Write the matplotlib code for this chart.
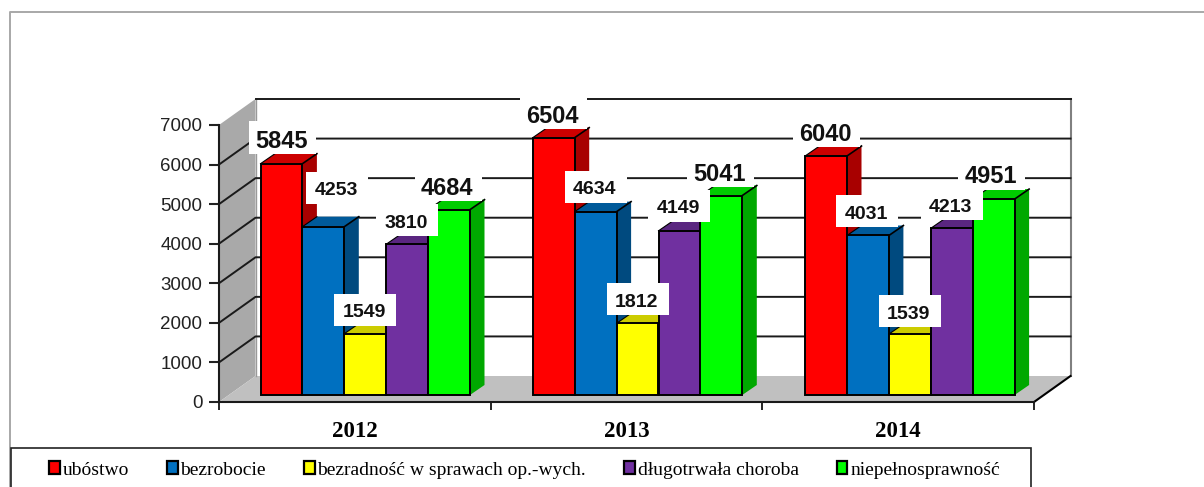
#!/usr/bin/env python3
import matplotlib
matplotlib.use('Agg')
import matplotlib.pyplot as plt
from matplotlib.colors import to_rgb
from matplotlib.lines import Line2D
from matplotlib.patches import Patch, Rectangle
from matplotlib.transforms import IdentityTransform

YEARS = ['2012', '2013', '2014']
SERIES = ['ubóstwo', 'bezrobocie', 'bezradność w sprawach op.-wych.',
          'długotrwała choroba', 'niepełnosprawność']
UBOSTWO = [5845, 6504, 6040]
BEZROBOCIE = [4253, 4634, 4031]
BEZRADNOSC = [1549, 1812, 1539]
CHOROBA = [3810, 4149, 4213]
NIEPELNOSPRAWNOSC = [4684, 5041, 4951]
VALUES = [UBOSTWO, BEZROBOCIE, BEZRADNOSC, CHOROBA, NIEPELNOSPRAWNOSC]
COLORS = ['#ff0000', '#0070c0', '#ffff00', '#7030a0', '#00ff00']
Y_TICKS = [0, 1000, 2000, 3000, 4000, 5000, 6000, 7000]

# label shift from the bar top centre, in pixels, per series then year
LABEL_SHIFT = [[(0, 25), (-1, 24), (-1, 24)],
               [(13, 38), (-1, 24), (-2, 23)],
               [(-1, 23), (-1, 23), (-1, 22)],
               [(-1, 23), (-1, 24), (-1, 23)],
               [(-2, 24), (-2, 24), (-3, 25)]]
LABEL_SIZE = [17, 14, 14, 14, 17]
# white box behind each label, pixels
BOX_SIZE = [(67, 33), (62, 32), (62, 32), (62, 32), (67, 33)]

W, H = 1204, 487
fig = plt.figure(figsize=(W / 100, H / 100), dpi=100)
plt.rcParams['font.family'] = ['Liberation Sans', 'DejaVu Sans']
ax = fig.add_axes([219 / W, (H - 402) / H, 815 / W, 277 / H])
ax.set_xlim(0, 3)
ax.set_ylim(0, 7000)
ax.patch.set_visible(False)

# pixel sizes expressed in data units
ux = 3 / 815
uy = 7000 / 277
wall_dx, wall_dy = 36.5 * ux, 26 * uy
bar_dx, bar_dy = 14.5 * ux, 10 * uy
bar_w = 41.9 * ux
bar_base = 7 * uy
bar_start = 41.5 * ux
group_step = 272.3 * ux


def shade(color, k):
    return tuple(c * k for c in to_rgb(color))


# walls and floor
ax.fill([0, 0, wall_dx, wall_dx], [0, 7000, 7000 + wall_dy, wall_dy],
        color='#a9a9a9', lw=0, clip_on=False, zorder=1)
ax.fill([0, 3, 3 + wall_dx, wall_dx], [0, 0, wall_dy, wall_dy],
        color='#c0c0c0', lw=0, clip_on=False, zorder=1)
ax.plot([wall_dx, wall_dx], [wall_dy, 7000 + wall_dy], color='#999999', lw=1, clip_on=False, zorder=1.5)
ax.plot([3 + wall_dx] * 2, [wall_dy, 7000 + wall_dy], color='#808080', lw=1.5, clip_on=False, zorder=1.5)
ax.plot([3, 3 + wall_dx], [0, wall_dy], color='black', lw=1.5, clip_on=False, zorder=1.5)
for v in Y_TICKS[1:-1]:
    ax.plot([0, wall_dx, 3 + wall_dx], [v, v + wall_dy, v + wall_dy],
            color='#1a1a1a', lw=1.4, clip_on=False, zorder=2)
ax.plot([wall_dx, 3 + wall_dx], [7000 + wall_dy] * 2, color='#1a1a1a', lw=1.4, clip_on=False, zorder=2)

# bars, left to right so that each front hides the side of its neighbour
z = 3
for g in range(len(YEARS)):
    for s, vals in enumerate(VALUES):
        v = vals[g]
        c = COLORS[s]
        x0 = g * group_step + bar_start + s * bar_w
        x1 = x0 + bar_w
        top = bar_base + v
        ax.fill([x0, x1, x1 + bar_dx, x0 + bar_dx], [top, top, top + bar_dy, top + bar_dy],
                color=shade(c, 0.8), lw=0, clip_on=False, zorder=z)
        ax.fill([x1, x1 + bar_dx, x1 + bar_dx, x1], [bar_base, bar_base + bar_dy, top + bar_dy, top],
                color=shade(c, 0.66), lw=0, clip_on=False, zorder=z)
        ax.plot([x1, x1 + bar_dx], [top, top + bar_dy], color='black', lw=1.2, clip_on=False, zorder=z)
        ax.plot([x0, x0 + bar_dx], [top, top + bar_dy], color='black', lw=0.8, clip_on=False, zorder=z)
        ax.bar(x0, v, bar_w, bottom=bar_base, align='edge', color=c, edgecolor='black',
               lw=1.4, clip_on=False, zorder=z + 0.5)
        z += 1

# value labels sit above everything and blank out what is behind them
z = 100
for g in range(len(YEARS)):
    for s, vals in enumerate(VALUES):
        xc = g * group_step + bar_start + (s + 0.5) * bar_w
        px, py = ax.transData.transform((xc, bar_base + vals[g]))
        dx, dy = LABEL_SHIFT[s][g]
        bw, bh = BOX_SIZE[s]
        ax.add_patch(Rectangle((px + dx + 1 - bw / 2, py + dy + 1 - bh / 2), bw, bh, fc='white', ec='none',
                               transform=IdentityTransform(), clip_on=False, zorder=z))
        ax.annotate(str(vals[g]), (xc, bar_base + vals[g]), xytext=(dx, dy),
                    textcoords='offset pixels', ha='center', va='center_baseline',
                    fontsize=LABEL_SIZE[s], fontweight='bold', color='#111111',
                    annotation_clip=False, zorder=z + 0.5)
        z += 1

# axes
for side in ('top', 'right'):
    ax.spines[side].set_visible(False)
for side in ('left', 'bottom'):
    ax.spines[side].set_linewidth(1.5)
    ax.spines[side].set_color('#1a1a1a')
    ax.spines[side].set_zorder(2.5)
ax.set_yticks(Y_TICKS)
ax.tick_params(axis='y', labelsize=13.5, length=7, width=1.5, pad=5, colors='#222222')
ax.set_xticks(range(len(YEARS) + 1))
ax.set_xticklabels([])
ax.tick_params(axis='x', which='major', length=6, width=1.2)
ax.set_xticks([g + 0.5 for g in range(len(YEARS))], minor=True)
ax.set_xticklabels(YEARS, minor=True, fontfamily='Liberation Serif', fontweight='bold', fontsize=16.5)
ax.tick_params(axis='x', which='minor', length=0, pad=14)

# outer frame runs off the picture to the right and the bottom
fig.add_artist(Line2D([9.5 / W, 9.5 / W, 1], [0, (H - 11.5) / H, (H - 11.5) / H],
                      transform=fig.transFigure, color='#a8a8a8', lw=1.4))
fig.add_artist(Rectangle((11 / W, -0.1), 1020 / W, 0.1 + (H - 448) / H,
                         transform=fig.transFigure, fc='white', ec='#222222', lw=1.2, zorder=5))
handles = [Patch(fc=c, ec='black', lw=1.6) for c in COLORS]
fig.legend(handles, SERIES, ncol=5, frameon=False, loc='center left',
           bbox_to_anchor=(49 / W, (H - 470) / H), borderpad=0, borderaxespad=0,
           prop={'family': 'Liberation Serif', 'size': 14},
           handlelength=0.55, handleheight=0.6, handletextpad=0.15, columnspacing=1.95).set_zorder(6)

fig.savefig('out.png', dpi=100)
